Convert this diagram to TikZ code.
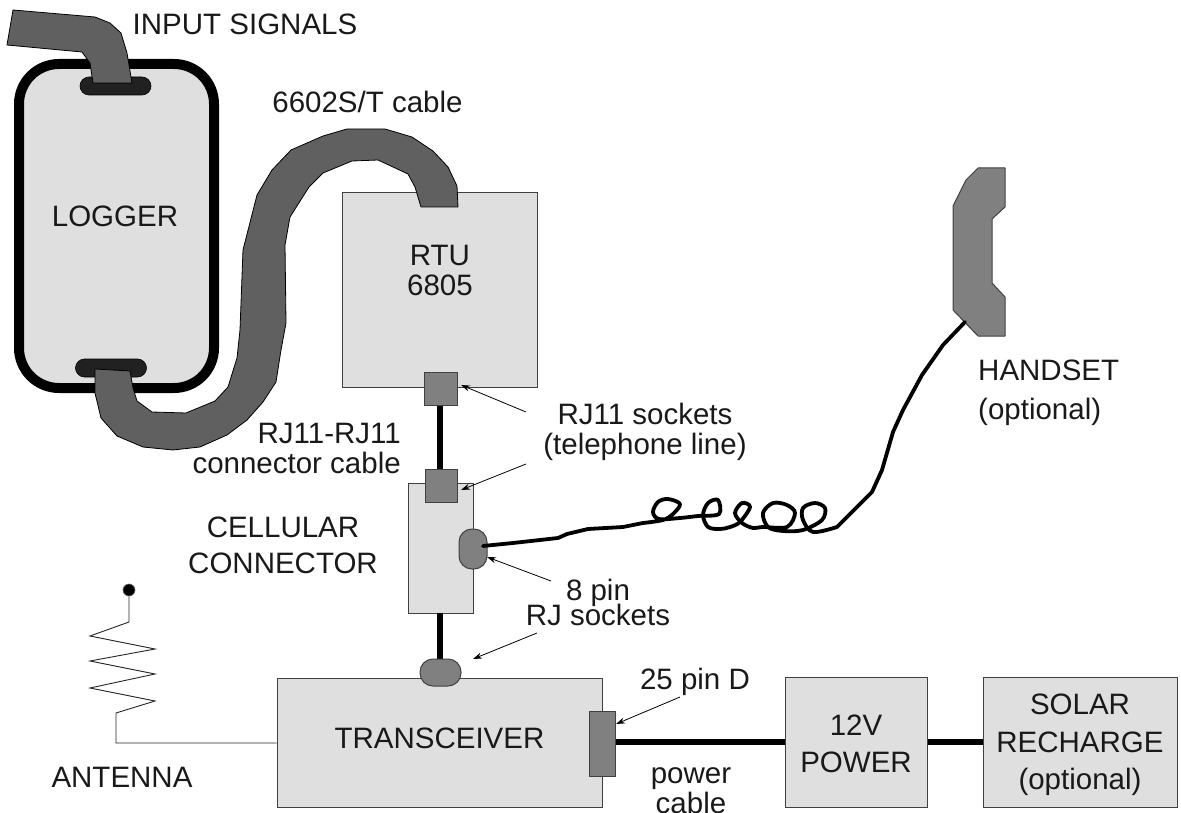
\documentclass[tikz,border=0pt]{standalone}
\usepackage{fontspec}
\setmainfont{Liberation Sans}
\usetikzlibrary{arrows.meta}
\definecolor{boxfill}{HTML}{DFDFDF}
\definecolor{plugfill}{HTML}{808080}
\definecolor{ribbonfill}{HTML}{606060}
\tikzset{
 box/.style={draw=black!75,fill=boxfill,line width=1pt},
 plug/.style={draw=black!75,fill=plugfill,line width=1pt},
 ribbon/.style={draw=black,fill=ribbonfill,line width=0.8pt,line join=round},
 wire/.style={line width=6pt,draw=black},
 cord/.style={line width=3.8pt,draw=black,line cap=round,line join=round},
 thin/.style={line width=0.9pt,draw=black!85},
 pointer/.style={line width=0.8pt,draw=black,-{Stealth[length=9pt,width=6pt]}},
 lab/.style={font=\fontsize{29.5}{30}\selectfont,align=center,inner sep=0pt,text=black!90},
 wide/.style={font=\fontsize{29.5}{36}\selectfont},
 wider/.style={font=\fontsize{29.5}{37.5}\selectfont}
}
\begin{document}
\begin{tikzpicture}[x=1pt,y=-1pt]
\useasboundingbox (0,0) rectangle (1181,813);
% Logger
\draw[fill=boxfill,line width=10pt,draw=black,rounded corners=40pt] (19,64) rectangle (214,388);
\node[draw=black,fill=black!87,line width=.6pt,rounded corners=9pt,minimum width=71pt,minimum height=18pt,inner sep=0pt] (slotT) at (115.5,86) {};
\node[draw=black,fill=black!87,line width=.6pt,rounded corners=9pt,minimum width=71pt,minimum height=18pt,inner sep=0pt] (slotB) at (111,368) {};
\draw[ribbon] (13,10)--(95,17)--(110,23)--(121,33)--(127,53)--(132,83)--(93,83)--(90,63)--(82,52)--(7,45)--cycle;
% RTU
\node[box,minimum width=195pt,minimum height=194pt,inner sep=0pt] (rtu) at (439.5,290) {};
% Main ribbon
\draw[ribbon] (95,369)--(130,371)--(133,388)--(137,401)--(152,412)--(186,413)--(215,401)--(228,387)--(237,358)--(240,330)--(243,250)--(257,195)--(272,170)--(291,150)--(323,136)--(347,129)--(385,129)--(412,137)--(433,151)--(448,167)--(457,186)--(458,207)--(421,207)--(415,187)--(408,174)--(378,160)--(352,161)--(323,173)--(309,187)--(290,217)--(285,245)--(286,323)--(281,350)--(276,382)--(263,402)--(247,420)--(227,435)--(200,447)--(173,450)--(143,447)--(117,436)--(101,418)--(95,393)--cycle;
% Wires behind plugs
\coordinate (w1a) at (440,405); \coordinate (w1b) at (440,469);
\draw[wire] (w1a)--(w1b);
% Cellular
\node[box,minimum width=65pt,minimum height=130pt,inner sep=0pt] (cell) at (440.5,548) {};
\node[plug,minimum width=33pt,minimum height=33pt,inner sep=0pt] (rj1) at (440.5,388.5) {};
\node[plug,minimum width=32pt,minimum height=33pt,inner sep=0pt] (rj2) at (441,485.5) {};
\node[plug,rounded corners=13pt,minimum width=28pt,minimum height=40pt,inner sep=0pt] (pin8) at (473,549) {};
\node[box,minimum width=325pt,minimum height=129pt,inner sep=0pt] (trans) at (439.5,742.5) {};
\draw[wire] (440,613)--(440,659);
\node[plug,rounded corners=13pt,minimum width=41pt,minimum height=27pt,inner sep=0pt] (rjo) at (440.5,672.5) {};
\node[plug,minimum width=26pt,minimum height=65pt,inner sep=0pt] (d25) at (602,743.5) {};
\node[box,minimum width=142pt,minimum height=130pt,inner sep=0pt] (pwr) at (856,742) {};
\node[box,minimum width=194pt,minimum height=130pt,inner sep=0pt] (sol) at (1080,742) {};
\draw[wire] (d25.east|-0,742)--(pwr.west|-0,742);
\draw[wire] (pwr.east|-0,742)--(sol.west|-0,742);
% Handset
\draw[plug,line join=round] (978,168)--(1005,168)--(1005,207)--(992,219)--(992,283)--(1005,297)--(1005,336)--(978,336)--(953,310)--(953,206)--(966,180)--cycle;
% Cord
\coordinate (cordA) at (483,546); \coordinate (cordB) at (965,322);
\draw[cord] (cordA)--(513,543)--(558,538)--(567,534)--(588,529)--(623,527)--(643,523);
\draw[cord] plot[smooth,tension=.55] coordinates {(643,523)(663,520)(673,514)(680,504)(668,499)(658,502)(653,512)(659,519)(680,518)(698,516)(719,514)(718,500)(708,503)(703,515)(708,527)(720,529)(730,527)(740,522)(750,507)(742,503)(735,513)(742,523)(753,528)(763,527)(787,527)(795,513)(787,505)(773,503)(763,513)(768,527)(783,531)(803,530)(822,520)(825,508)(815,503)(803,508)(803,520)(813,532)(837,527)};
\draw[cord] (837,527)--(872,492)--(882,470)--(893,432)--(903,410)--(922,375)--(943,345)--(cordB);
% Antenna
\node[circle,fill=black,draw=black!60,line width=.6pt,minimum size=12pt,inner sep=0pt] (dot) at (129,590) {};
\draw[thin] (dot)--(129,622)--(90,636)--(155,649)--(90,661)--(155,674)--(90,688)--(155,701)--(116,713)--(116,743)--(trans.west|-0,743);
% Arrows
\coordinate (p1) at (526,412); \coordinate (p2) at (526,464); \coordinate (p3) at (551,581); \coordinate (p4) at (537,633); \coordinate (p5) at (680,697);
\coordinate (q1) at (461,385); \coordinate (q2) at (461,490); \coordinate (q3) at (487,557); \coordinate (q4) at (473,659); \coordinate (q5) at (616,724);
\draw[pointer] (p1)--(q1); \draw[pointer] (p2)--(q2); \draw[pointer] (p3)--(q3); \draw[pointer] (p4)--(q4); \draw[pointer] (p5)--(q5);
% Labels
\node[lab] (t1) at (245,24) {INPUT SIGNALS};
\node[lab] (t2) at (367.5,102) {6602S/T cable};
\node[lab] (t3) at (115,216) {LOGGER};
\node[lab] (t4) at (440,270) {RTU\\6805};
\node[lab] (t5) at (645,432) {RJ11 sockets\\(telephone line)};
\node[lab,align=right,anchor=east] (t6) at (401,448) {RJ11-RJ11\\connector cable};
\node[lab,wide] (t7) at (283,545) {CELLULAR\\CONNECTOR};
\node[lab] (t8) at (598,593) {8 pin};
\node[lab] (t9) at (598,615) {RJ sockets};
\node[lab,align=left,anchor=west,font=\fontsize{29.5}{39}\selectfont] (t10) at (978,393) {HANDSET\\(optional)};
\node[lab] (t11) at (122,777) {ANTENNA};
\node[lab] (t12) at (439.5,738) {TRANSCEIVER};
\node[lab] (t13) at (695,682) {25 pin D};
\node[lab] (t14) at (691,791) {power\\cable};
\node[lab,wider] (t15) at (856,744) {12V\\POWER};
\node[lab,wider] (t16) at (1080,745) {SOLAR\\RECHARGE\\(optional)};
\end{tikzpicture}
\end{document}
